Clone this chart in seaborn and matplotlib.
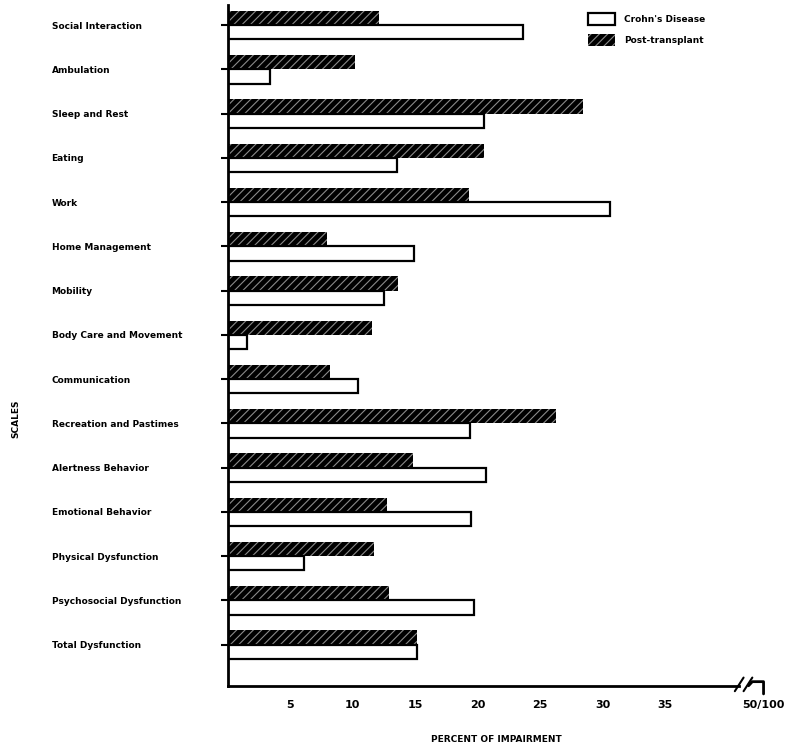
import matplotlib
matplotlib.use("Agg")
import matplotlib.pyplot as plt
import matplotlib.transforms as mtransforms
from matplotlib.patches import Patch
import seaborn as sns
import pandas as pd

scales = ["Social Interaction", "Ambulation", "Sleep and Rest", "Eating", "Work",
          "Home Management", "Mobility", "Body Care and Movement", "Communication",
          "Recreation and Pastimes", "Alertness Behavior", "Emotional Behavior",
          "Physical Dysfunction", "Psychosocial Dysfunction", "Total Dysfunction"]
post_transplant = [12.1, 10.2, 28.4, 20.5, 19.3, 7.9, 13.6, 11.5, 8.2, 26.3, 14.8, 12.7, 11.7, 12.9, 15.1]
crohns = [23.6, 3.4, 20.5, 13.5, 30.6, 14.9, 12.5, 1.5, 10.4, 19.4, 20.7, 19.5, 6.1, 19.7, 15.1]
series_names = ["Post-transplant", "Crohn's Disease"]
x_ticks = [5, 10, 15, 20, 25, 30, 35]
x_tick_labels = ["5", "10", "15", "20", "25", "30", "35"]
break_label = "50/100"

df = pd.DataFrame({
    "scale": scales * 2,
    "value": post_transplant + crohns,
    "group": [series_names[0]] * len(scales) + [series_names[1]] * len(scales),
})

sns.set_theme(style="white")
plt.rcParams["font.family"] = ["DejaVu Sans"]
plt.rcParams["hatch.linewidth"] = 0.8
for k in ["text.color", "axes.labelcolor", "xtick.color", "ytick.color", "axes.edgecolor"]:
    plt.rcParams[k] = "black"

fig = plt.figure(figsize=(8, 7.47), dpi=100)
ax = fig.add_axes([0.285, 0.082, 0.671, 0.911])

sns.barplot(data=df, x="value", y="scale", hue="group", order=scales,
            hue_order=series_names, palette={series_names[0]: "black", series_names[1]: "white"},
            orient="h", width=0.64, edgecolor="black", linewidth=1.6, legend=False, ax=ax)

n = len(scales)
for i, p in enumerate(ax.patches[:n * 2]):
    if i < n:
        p.set_hatch("////")
        p.set_edgecolor("#8a8a8a")
        p.set_linewidth(0)

ax.set_xlim(0, 43)
ax.set_ylim(n - 1 + 0.93, -0.45)

ax.set_xticks(x_ticks + [42.9])
ax.set_xticklabels(x_tick_labels + [break_label], fontweight="bold", fontsize=8)
ax.tick_params(axis="x", length=0, pad=10)

ax.set_yticks(range(n))
ax.set_yticklabels(scales, fontweight="bold", fontsize=6.5, ha="left")
ax.tick_params(axis="y", length=5, width=1.5, direction="out", pad=122, left=True)

for s in ["top", "right"]:
    ax.spines[s].set_visible(False)
ax.spines["left"].set_linewidth(2)
ax.spines["bottom"].set_linewidth(2)
ax.spines["bottom"].set_bounds(0, 40.9)

trans = mtransforms.blended_transform_factory(ax.transData, ax.transAxes)
ax.plot([41.7, 42.0, 42.9, 42.9], [0, 0.006, 0.006, -0.012], color="black", lw=2,
        transform=trans, clip_on=False)
for xb in [40.6, 41.3]:
    ax.plot([xb, xb + 0.7], [-0.008, 0.012], color="black", lw=1.5, transform=trans, clip_on=False)

ax.set_xlabel("PERCENT OF IMPAIRMENT", fontweight="bold", fontsize=6.5, labelpad=18)
ax.set_ylabel("")
fig.text(0.02, 0.44, "SCALES", rotation=90, fontweight="bold", fontsize=6.5, ha="center", va="center")

handles = [Patch(facecolor="white", edgecolor="black", linewidth=1.6),
           Patch(facecolor="black", edgecolor="#8a8a8a", hatch="////", linewidth=0)]
leg = ax.legend(handles, [series_names[1], series_names[0]], loc="upper left",
                bbox_to_anchor=(0.655, 1.0), frameon=False, handlelength=3.0, handleheight=1.6,
                labelspacing=1.0, prop={"weight": "bold", "size": 6.5}, handletextpad=1.0)

fig.savefig("out.png", dpi=100, facecolor="white")
